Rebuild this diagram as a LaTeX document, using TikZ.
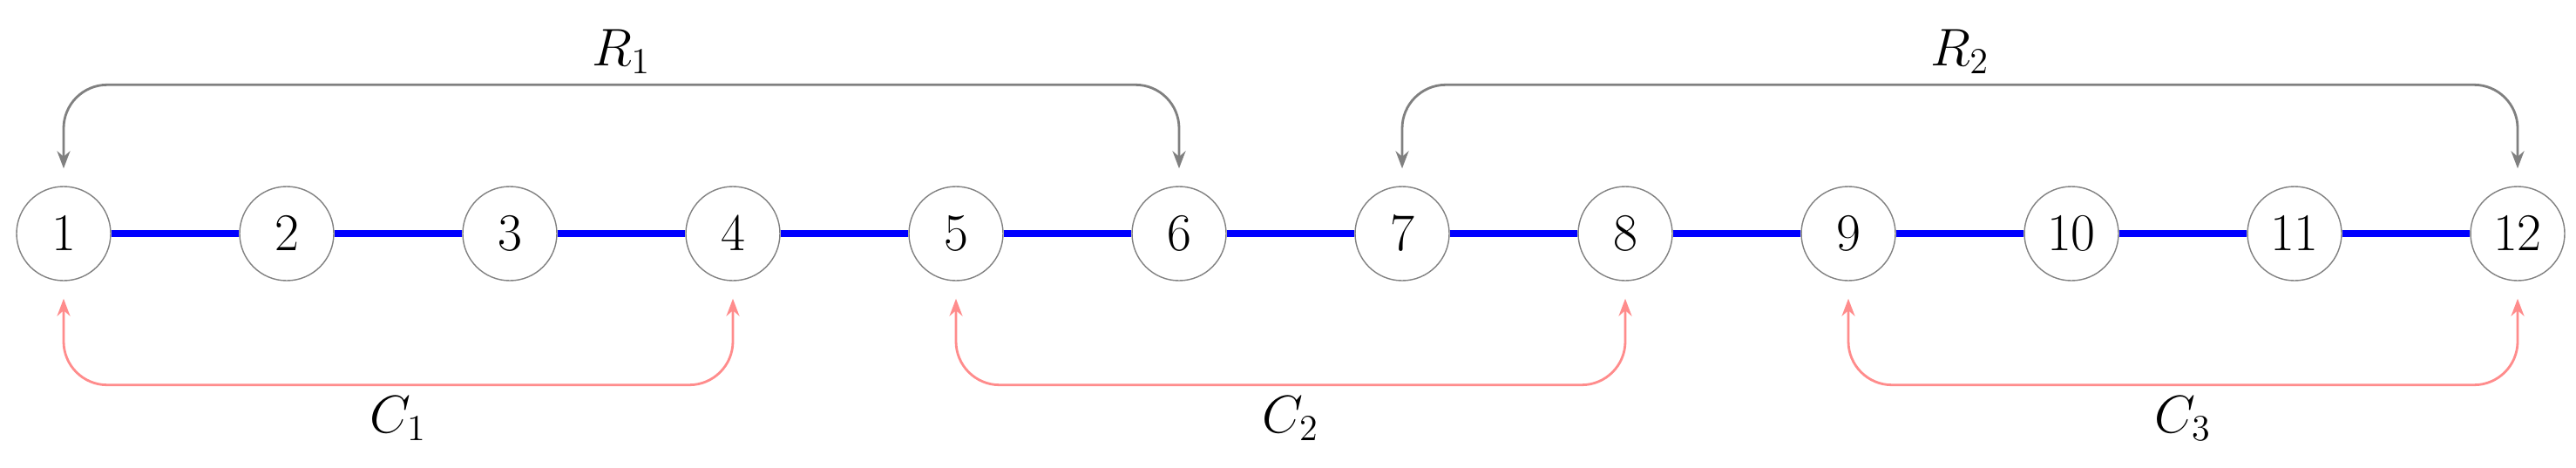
\documentclass[tikz,border=0pt]{standalone}
\usetikzlibrary{arrows.meta}
\begin{document}
\begin{tikzpicture}[>={Stealth[length=2mm,width=1.5mm]},
  vert/.style={circle, draw=gray, minimum size=1.08cm, inner sep=0pt, font=\LARGE},
  edge/.style={blue, line width=2pt},
  rlink/.style={<->, gray, thick, rounded corners=5mm},
  clink/.style={<->, red!45, thick, rounded corners=5mm},
  lbl/.style={black, font=\LARGE}]
\useasboundingbox (0,0) rectangle (29.56,5.36);
\foreach \i in {1,...,12}
{
    \node[vert] (n\i) at ({0.73+2.56*(\i-1)},2.68) {$\i$};
}
\foreach \i [evaluate=\i as \j using int(\i+1)] in {1,...,11}
{
    \draw[edge] (n\i)--(n\j);
}
\draw[rlink] ([yshift=2mm]n1.north) -- ++(0,0.96) -| ([yshift=2mm]n6.north) node[pos=.25,above,lbl]{$R_1$};
\draw[rlink] ([yshift=2mm]n7.north) -- ++(0,0.96) -| ([yshift=2mm]n12.north) node[pos=.25,above,lbl]{$R_2$};
\draw[clink] ([yshift=-2mm]n1.south) -- ++(0,-0.99) -| ([yshift=-2mm]n4.south) node[pos=.25,below,lbl]{$C_1$};
\draw[clink] ([yshift=-2mm]n5.south) -- ++(0,-0.99) -| ([yshift=-2mm]n8.south) node[pos=.25,below,lbl]{$C_2$};
\draw[clink] ([yshift=-2mm]n9.south) -- ++(0,-0.99) -| ([yshift=-2mm]n12.south) node[pos=.25,below,lbl]{$C_3$};
\end{tikzpicture}
\end{document}
